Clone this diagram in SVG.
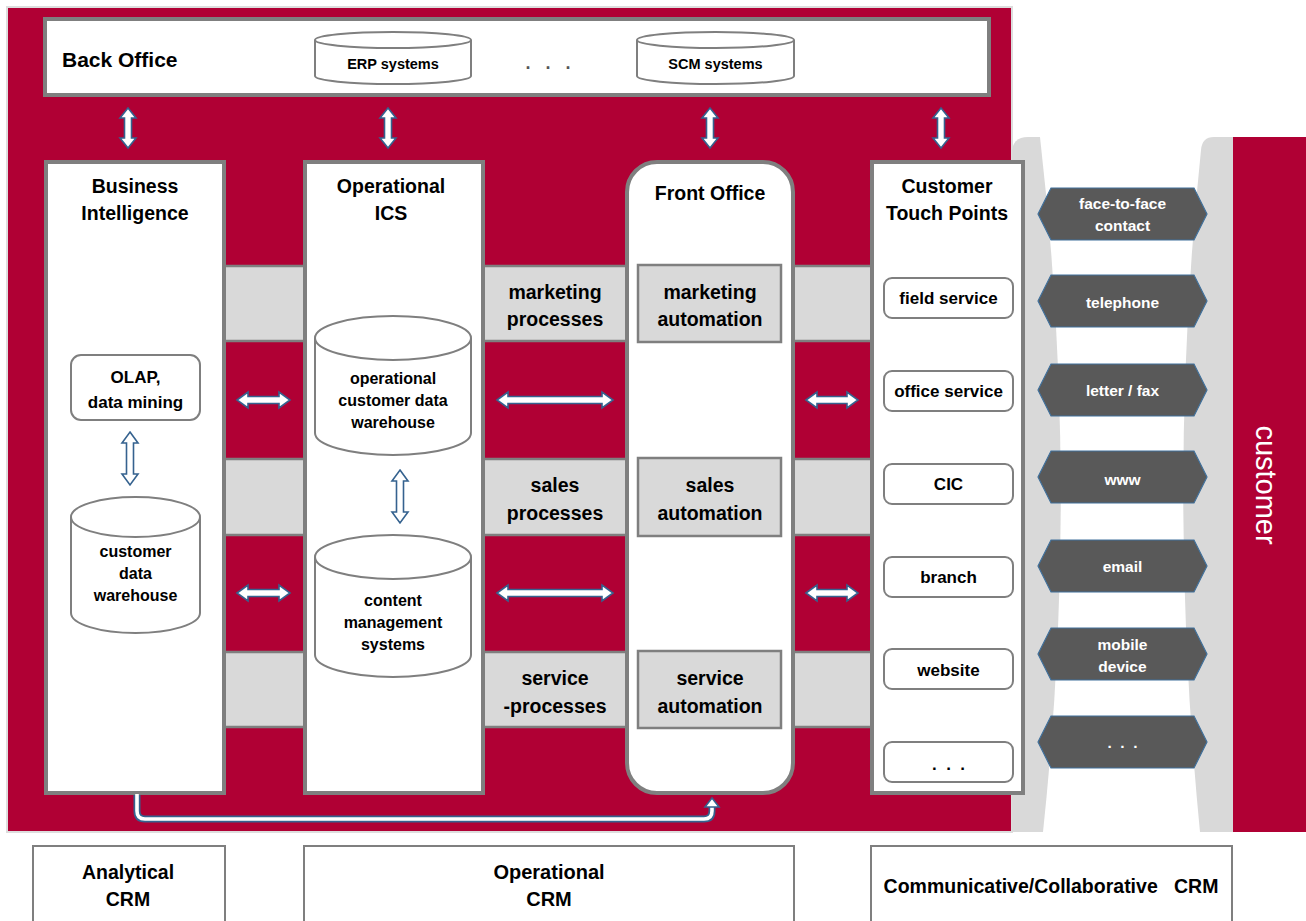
<svg xmlns="http://www.w3.org/2000/svg" width="1306" height="921" viewBox="0 0 1306 921">
<style>
text{font-family:"Liberation Sans",Arial,sans-serif;font-weight:bold;fill:#000;text-anchor:middle}
.col{fill:#fff;stroke:#7F7F7F;stroke-width:4}
.band{fill:#D9D9D9;stroke:#7F7F7F;stroke-width:2.5}
.cyl{fill:#fff;stroke:#7F7F7F;stroke-width:2}
.rbox{fill:#fff;stroke:#7F7F7F;stroke-width:2}
.arr{fill:#fff;stroke:#35628F;stroke-width:1.6;stroke-linejoin:miter}
.hex{fill:#595959;stroke:#41719C;stroke-width:1.2}
.ht{fill:#fff;font-size:15.5px}
.t19{font-size:19.5px}
.t17{font-size:17px}
.t16{font-size:16px}
.t14{font-size:14.5px}
</style>
<rect x="7" y="7" width="1005" height="825" fill="#B00034" stroke="#DDDDDD" stroke-width="2"/>
<path d="M1012,150 Q1014,137 1028,137 H1040 Q1080,485 1043,832 H1012 Z" fill="#D9D9D9"/>
<path d="M1233,137 H1214 Q1202,137 1201,150 Q1166,485 1200,832 H1233 Z" fill="#D9D9D9"/>
<g id="customer">
<rect x="1233" y="137" width="73" height="695" fill="#B00034"/>
<text transform="translate(1256,485) rotate(90)" style="font-weight:normal;font-size:29px;fill:#fff">customer</text>
</g>
<g id="back-office">
<rect x="45" y="19" width="944" height="76" class="col"/>
<text x="62" y="67" style="font-size:21px;text-anchor:start">Back Office</text>
<g id="erp">
<path class="cyl" d="M315,40 V76 A78,8 0 0 0 471,76 V40"/>
<ellipse class="cyl" cx="393" cy="40" rx="78" ry="8"/>
<text x="393" y="69" class="t14">ERP systems</text>
</g>
<text x="548" y="69" style="font-size:18px;fill:#555" xml:space="preserve">.   .   .</text>
<g id="scm">
<path class="cyl" d="M637,40 V76 A78.5,8 0 0 0 794,76 V40"/>
<ellipse class="cyl" cx="715.5" cy="40" rx="78.5" ry="8"/>
<text x="715.5" y="69" class="t14">SCM systems</text>
</g>
</g>
<g id="bands">
<rect class="band" x="224" y="266" width="648" height="75"/>
<rect class="band" x="224" y="459" width="648" height="76"/>
<rect class="band" x="224" y="652" width="648" height="75"/>
<text x="555" y="299" class="t19">marketing</text>
<text x="555" y="326" class="t19">processes</text>
<text x="555" y="492" class="t19">sales</text>
<text x="555" y="520" class="t19">processes</text>
<text x="555" y="685" class="t19">service</text>
<text x="555" y="713" class="t19">-processes</text>
</g>
<g id="business-intelligence">
<rect class="col" x="46" y="162" width="178" height="631"/>
<text x="135" y="193" class="t19">Business</text>
<text x="135" y="220" class="t19">Intelligence</text>
<g id="olap">
<rect class="rbox" x="71" y="355" width="129" height="65" rx="10"/>
<text x="135.5" y="383" class="t17">OLAP,</text>
<text x="135.5" y="408" class="t17">data mining</text>
</g>
<g id="customer-dw">
<path class="cyl" d="M71,517 V613 A64.5,20 0 0 0 200,613 V517"/>
<ellipse class="cyl" cx="135.5" cy="517" rx="64.5" ry="20"/>
<text x="135.5" y="557" class="t16">customer</text>
<text x="135.5" y="579" class="t16">data</text>
<text x="135.5" y="601" class="t16">warehouse</text>
</g>
</g>
<g id="operational-ics">
<rect class="col" x="305" y="162" width="178" height="631"/>
<text x="391" y="193" class="t19">Operational</text>
<text x="391" y="220" class="t19">ICS</text>
<g id="op-cdw">
<path class="cyl" d="M315,338 V433 A78,22 0 0 0 471,433 V338"/>
<ellipse class="cyl" cx="393" cy="338" rx="78" ry="22"/>
<text x="393" y="384" class="t16">operational</text>
<text x="393" y="406" class="t16">customer data</text>
<text x="393" y="428" class="t16">warehouse</text>
</g>
<g id="cms">
<path class="cyl" d="M315,557 V655 A78,22 0 0 0 471,655 V557"/>
<ellipse class="cyl" cx="393" cy="557" rx="78" ry="22"/>
<text x="393" y="606" class="t16">content</text>
<text x="393" y="628" class="t16">management</text>
<text x="393" y="650" class="t16">systems</text>
</g>
</g>
<g id="front-office">
<rect class="col" x="627" y="162" width="166" height="631" rx="30"/>
<text x="710" y="200" class="t19">Front Office</text>
<rect class="band" x="638" y="265" width="143" height="77"/>
<text x="710" y="299" class="t19">marketing</text>
<text x="710" y="326" class="t19">automation</text>
<rect class="band" x="638" y="458" width="143" height="78"/>
<text x="710" y="492" class="t19">sales</text>
<text x="710" y="520" class="t19">automation</text>
<rect class="band" x="638" y="651" width="143" height="77"/>
<text x="710" y="685" class="t19">service</text>
<text x="710" y="713" class="t19">automation</text>
</g>
<g id="touch-points">
<rect class="col" x="872" y="162" width="151" height="631"/>
<text x="947" y="193" class="t19">Customer</text>
<text x="947" y="220" class="t19">Touch Points</text>
<rect class="rbox" x="884" y="278" width="129" height="40" rx="8"/>
<text x="948.5" y="304" class="t17">field service</text>
<rect class="rbox" x="884" y="371" width="129" height="40" rx="8"/>
<text x="948.5" y="397" class="t17">office service</text>
<rect class="rbox" x="884" y="464" width="129" height="40" rx="8"/>
<text x="948.5" y="490" class="t17">CIC</text>
<rect class="rbox" x="884" y="557" width="129" height="40" rx="8"/>
<text x="948.5" y="583" class="t17">branch</text>
<rect class="rbox" x="884" y="649" width="129" height="40" rx="8"/>
<text x="948.5" y="676" class="t17">website</text>
<rect class="rbox" x="884" y="742" width="129" height="40" rx="8"/>
<text x="948.5" y="770" class="t17" xml:space="preserve">.  .  .</text>
</g>
<g id="channels">
<polygon class="hex" points="1038,214 1051,188 1194,188 1207,214 1194,240 1051,240"/>
<text x="1122.5" y="209" class="ht">face-to-face</text>
<text x="1122.5" y="231" class="ht">contact</text>
<polygon class="hex" points="1038,301 1051,275 1194,275 1207,301 1194,327 1051,327"/>
<text x="1122.5" y="308" class="ht">telephone</text>
<polygon class="hex" points="1038,390 1051,364 1194,364 1207,390 1194,416 1051,416"/>
<text x="1122.5" y="396" class="ht">letter / fax</text>
<polygon class="hex" points="1038,477 1051,451 1194,451 1207,477 1194,503 1051,503"/>
<text x="1122.5" y="485" class="ht">www</text>
<polygon class="hex" points="1038,566 1051,540 1194,540 1207,566 1194,592 1051,592"/>
<text x="1122.5" y="572" class="ht">email</text>
<polygon class="hex" points="1038,654 1051,628 1194,628 1207,654 1194,680 1051,680"/>
<text x="1122.5" y="650" class="ht">mobile</text>
<text x="1122.5" y="672" class="ht">device</text>
<polygon class="hex" points="1038,742 1051,716 1194,716 1207,742 1194,768 1051,768"/>
<text x="1122.5" y="748" class="ht" xml:space="preserve">.  .  .</text>
</g>
<g id="connectors">
<path class="arr" d="M128,108 L136,118 L131.5,118 L131.5,138 L136,138 L128,148 L120,138 L124.5,138 L124.5,118 L120,118 Z"/>
<path class="arr" d="M388,108 L396,118 L391.5,118 L391.5,138 L396,138 L388,148 L380,138 L384.5,138 L384.5,118 L380,118 Z"/>
<path class="arr" d="M710,108 L718,118 L713.5,118 L713.5,138 L718,138 L710,148 L702,138 L706.5,138 L706.5,118 L702,118 Z"/>
<path class="arr" d="M941,108 L949,118 L944.5,118 L944.5,138 L949,138 L941,148 L933,138 L937.5,138 L937.5,118 L933,118 Z"/>
<path class="arr" d="M130,432 L138,443 L133.5,443 L133.5,474 L138,474 L130,485 L122,474 L126.5,474 L126.5,443 L122,443 Z"/>
<path class="arr" d="M400,470 L408,481 L403.5,481 L403.5,512 L408,512 L400,523 L392,512 L396.5,512 L396.5,481 L392,481 Z"/>
<path class="arr" d="M237,400 L248,392 L248,396.5 L279,396.5 L279,392 L290,400 L279,408 L279,403.5 L248,403.5 L248,408 Z"/>
<path class="arr" d="M497,400 L508,392 L508,396.5 L602,396.5 L602,392 L613,400 L602,408 L602,403.5 L508,403.5 L508,408 Z"/>
<path class="arr" d="M806,400 L817,392 L817,396.5 L847,396.5 L847,392 L858,400 L847,408 L847,403.5 L817,403.5 L817,408 Z"/>
<path class="arr" d="M237,593 L248,585 L248,589.5 L279,589.5 L279,585 L290,593 L279,601 L279,596.5 L248,596.5 L248,601 Z"/>
<path class="arr" d="M497,593 L508,585 L508,589.5 L602,589.5 L602,585 L613,593 L602,601 L602,596.5 L508,596.5 L508,601 Z"/>
<path class="arr" d="M806,593 L817,585 L817,589.5 L847,589.5 L847,585 L858,593 L847,601 L847,596.5 L817,596.5 L817,601 Z"/>
<path d="M137,795 V811 Q137,819 145,819 H704 Q712,819 712,811 V806" fill="none" stroke="#35628F" stroke-width="7"/>
<path d="M137,794 V811 Q137,819 145,819 H704 Q712,819 712,811 V805" fill="none" stroke="#fff" stroke-width="3.6"/>
<path class="arr" d="M712,798 L719,807 L705,807 Z"/>
</g>
<g id="crm-types">
<rect class="rbox" x="33" y="846" width="192" height="80"/>
<text x="128" y="879" class="t19">Analytical</text>
<text x="128" y="906" class="t19">CRM</text>
<rect class="rbox" x="304" y="846" width="490" height="80"/>
<text x="549" y="879" style="font-size:20px">Operational</text>
<text x="549" y="906" style="font-size:20px">CRM</text>
<rect class="rbox" x="871" y="846" width="361" height="80"/>
<text x="1051" y="893" class="t19" xml:space="preserve">Communicative/Collaborative   CRM</text>
</g>
</svg>
